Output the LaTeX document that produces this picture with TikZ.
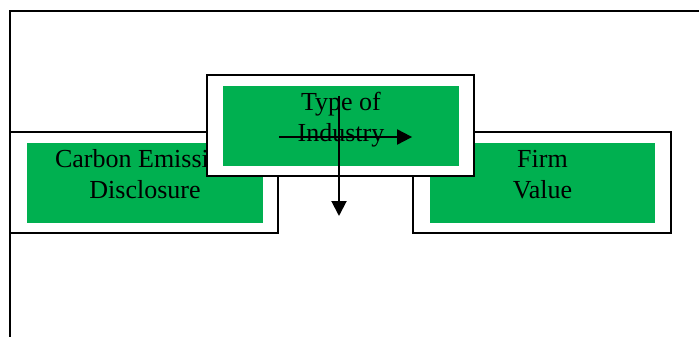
\documentclass[tikz,border=0pt]{standalone}
\usepackage{fontspec}
\setmainfont{Liberation Serif}
\usetikzlibrary{arrows.meta}
\definecolor{boxgreen}{HTML}{00B050}
\begin{document}
\begin{tikzpicture}[x=1pt,y=-1pt,
  framebox/.style={draw=black, line width=1.8pt, fill=white, inner sep=0pt},
  fillbox/.style={fill=boxgreen, inner sep=0pt, minimum height=80pt},
  label/.style={anchor=north, inner sep=0pt, align=center,
    font=\fontsize{26}{31}\selectfont},
  link/.style={line width=2pt, -{Triangle[length=15pt,width=15pt]}}]
  \useasboundingbox (0,0) rectangle (699,337);
  \clip (0,0) rectangle (699,337);

  % surrounding frame, running off the page to the right and below
  \draw[line width=1.8pt] (10,350) -- (10,11) -- (720,11);

  % Carbon Emission Disclosure
  \node[framebox, minimum width=268pt, minimum height=101pt] (ced) at (144,182.5) {};
  \node[fillbox, minimum width=236pt] (cedFill) at (145,183) {};
  \node[label] (cedText) at (cedFill.north) {\rule{0pt}{24pt}Carbon Emission\\Disclosure};

  % Firm Value
  \node[framebox, minimum width=258pt, minimum height=101pt] (fv) at (542,182.5) {};
  \node[fillbox, minimum width=225pt] (fvFill) at (542.5,183) {};
  \node[label] (fvText) at (fvFill.north) {\rule{0pt}{24pt}Firm\\Value};

  % Type of Industry
  \node[framebox, minimum width=267pt, minimum height=101pt] (toi) at (340.5,125.5) {};
  \node[fillbox, minimum width=236pt] (toiFill) at (341,126) {};
  \node[label] (toiText) at (toiFill.north) {\rule{0pt}{24.5pt}Type of\\Industry};

  % arrows
  \coordinate (vStart) at (339,96);
  \coordinate (vEnd) at (339,216);
  \draw[link] (vStart) -- (vEnd);
  \draw[link] (ced.east |- 0,137) -- (fv.west |- 0,137);
\end{tikzpicture}
\end{document}
